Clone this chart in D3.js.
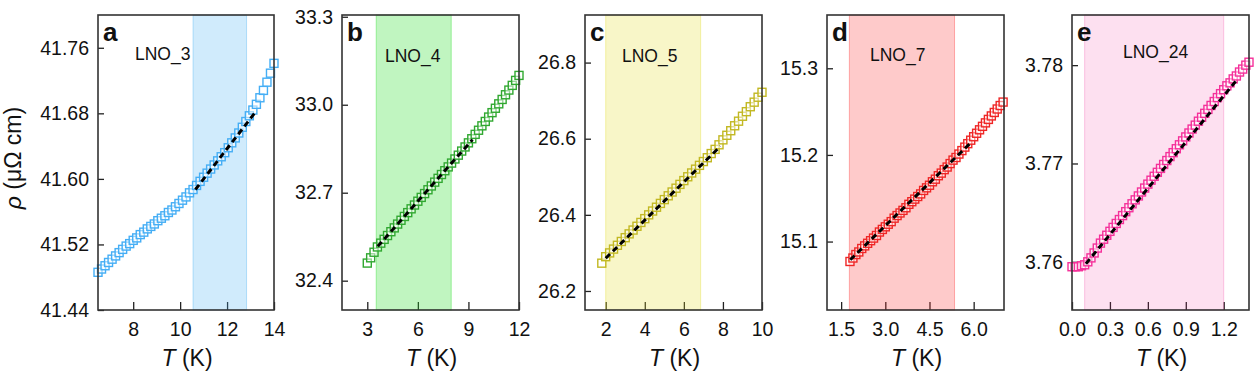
<!DOCTYPE html>
<html>
<head>
<meta charset="utf-8">
<script src="https://cdn.jsdelivr.net/npm/d3@7"></script>
<style>
  html, body { margin: 0; padding: 0; background: #fff; }
  svg { display: block; }
</style>
</head>
<body>
<svg id="chart" width="1256" height="376"></svg>
<script>
// ---------------- DATA ----------------
const panelLetters = ["a", "b", "c", "d", "e"];
const sampleNames = ["LNO_3", "LNO_4", "LNO_5", "LNO_7", "LNO_24"];

// Panel a (LNO_3)
const tA = [6.50,6.65,6.80,6.95,7.10,7.25,7.40,7.55,7.70,7.85,8.00,8.15,8.30,8.45,8.60,8.75,8.90,9.05,9.20,9.35,9.50,9.65,9.80,9.95,10.10,10.25,10.40,10.55,10.70,10.85,11.00,11.15,11.30,11.45,11.60,11.75,11.90,12.05,12.20,12.35,12.50,12.65,12.80,12.95,13.10,13.25,13.40,13.55,13.70,13.85,14.00];
const rhoA = [41.486,41.490,41.494,41.498,41.502,41.506,41.510,41.514,41.518,41.521,41.525,41.528,41.532,41.535,41.539,41.542,41.545,41.549,41.552,41.555,41.559,41.562,41.566,41.570,41.574,41.578,41.583,41.587,41.592,41.597,41.602,41.607,41.612,41.617,41.622,41.627,41.632,41.638,41.644,41.650,41.656,41.663,41.670,41.677,41.684,41.691,41.699,41.708,41.718,41.729,41.741];
const fitTA = [10.65, 13.25];
const fitRhoA = [41.587, 41.683];
const bandA = [10.55, 12.83];
const xDomainA = [6.5, 14];
const yDomainA = [41.44, 41.80];
const xTicksA = [8, 10, 12, 14];
const yTicksA = [41.44, 41.52, 41.60, 41.68, 41.76];

// Panel b (LNO_4)
const tB = [3.0,3.2,3.4,3.6,3.8,4.0,4.2,4.4,4.6,4.8,5.0,5.2,5.4,5.6,5.8,6.0,6.2,6.4,6.6,6.8,7.0,7.2,7.4,7.6,7.8,8.0,8.2,8.4,8.6,8.8,9.0,9.2,9.4,9.6,9.8,10.0,10.2,10.4,10.6,10.8,11.0,11.2,11.4,11.6,11.8,12.0];
const rhoB = [32.460,32.478,32.497,32.515,32.528,32.541,32.554,32.567,32.580,32.593,32.606,32.619,32.632,32.645,32.658,32.671,32.684,32.697,32.710,32.723,32.736,32.749,32.762,32.775,32.788,32.801,32.815,32.828,32.842,32.856,32.870,32.884,32.899,32.913,32.928,32.943,32.958,32.973,32.988,33.003,33.018,33.034,33.050,33.066,33.083,33.100];
const fitTB = [3.62, 9.24];
const fitRhoB = [32.517, 32.881];
const bandB = [3.53, 7.98];
const xDomainB = [1.5, 12];
const yDomainB = [32.3, 33.306];
const xTicksB = [3, 6, 9, 12];
const yTicksB = [32.4, 32.7, 33.0, 33.3];

// Panel c (LNO_5)
const tC = [1.8,2.0,2.2,2.4,2.6,2.8,3.0,3.2,3.4,3.6,3.8,4.0,4.2,4.4,4.6,4.8,5.0,5.2,5.4,5.6,5.8,6.0,6.2,6.4,6.6,6.8,7.0,7.2,7.4,7.6,7.8,8.0,8.2,8.4,8.6,8.8,9.0,9.2,9.4,9.6,9.8,10.0];
const rhoC = [26.273,26.290,26.300,26.310,26.320,26.330,26.340,26.350,26.360,26.370,26.380,26.390,26.400,26.410,26.420,26.430,26.440,26.450,26.460,26.470,26.480,26.490,26.500,26.510,26.520,26.530,26.540,26.550,26.561,26.572,26.584,26.597,26.609,26.621,26.634,26.646,26.659,26.671,26.684,26.696,26.709,26.722];
const fitTC = [2.0, 7.87];
const fitRhoC = [26.286, 26.580];
const bandC = [2.0, 6.86];
const xDomainC = [0.94, 10];
const yDomainC = [26.15, 26.925];
const xTicksC = [2, 4, 6, 8, 10];
const yTicksC = [26.2, 26.4, 26.6, 26.8];

// Panel d (LNO_7)
const tD = [1.8,1.9,2.0,2.1,2.2,2.3,2.4,2.5,2.6,2.7,2.8,2.9,3.0,3.1,3.2,3.3,3.4,3.5,3.6,3.7,3.8,3.9,4.0,4.1,4.2,4.3,4.4,4.5,4.6,4.7,4.8,4.9,5.0,5.1,5.2,5.3,5.4,5.5,5.6,5.7,5.8,5.9,6.0,6.1,6.2,6.3,6.4,6.5,6.6,6.7,6.8,6.9,7.0];
const rhoD = [15.077,15.081,15.085,15.088,15.092,15.095,15.098,15.101,15.104,15.107,15.111,15.114,15.117,15.120,15.123,15.127,15.130,15.133,15.136,15.139,15.143,15.146,15.149,15.152,15.155,15.159,15.162,15.165,15.169,15.172,15.176,15.179,15.183,15.186,15.190,15.194,15.197,15.201,15.205,15.209,15.213,15.217,15.221,15.225,15.229,15.233,15.237,15.241,15.245,15.249,15.253,15.257,15.261];
const fitTD = [1.81, 5.93];
const fitRhoD = [15.079, 15.215];
const bandD = [1.78, 5.35];
const xDomainD = [1.02, 7.03];
const yDomainD = [15.021, 15.3615];
const xTicksD = [1.5, 3.0, 4.5, 6.0];
const yTicksD = [15.1, 15.2, 15.3];

// Panel e (LNO_24)
const tE = [0.000,0.025,0.050,0.075,0.100,0.125,0.150,0.175,0.200,0.225,0.250,0.275,0.300,0.325,0.350,0.375,0.400,0.425,0.450,0.475,0.500,0.525,0.550,0.575,0.600,0.625,0.650,0.675,0.700,0.725,0.750,0.775,0.800,0.825,0.850,0.875,0.900,0.925,0.950,0.975,1.000,1.025,1.050,1.075,1.100,1.125,1.150,1.175,1.200,1.225,1.250,1.275,1.300,1.325,1.350,1.375,1.400];
const rhoE = [3.7595,3.7595,3.7595,3.7596,3.7597,3.7600,3.7604,3.7609,3.7614,3.7619,3.7623,3.7627,3.7631,3.7635,3.7639,3.7643,3.7647,3.7651,3.7655,3.7659,3.7663,3.7667,3.7671,3.7675,3.7679,3.7683,3.7687,3.7691,3.7695,3.7699,3.7703,3.7707,3.7711,3.7715,3.7719,3.7723,3.7727,3.7731,3.7735,3.7739,3.7743,3.7747,3.7751,3.7755,3.7759,3.7763,3.7767,3.7771,3.7775,3.7779,3.7782,3.7786,3.7789,3.7793,3.7796,3.7800,3.7803];
const fitTE = [0.11, 1.31];
const fitRhoE = [3.7598, 3.7786];
const bandE = [0.10, 1.20];
const xDomainE = [0, 1.4];
const yDomainE = [3.7551, 3.7851];
const xTicksE = [0.0, 0.3, 0.6, 0.9, 1.2];
const yTicksE = [3.76, 3.77, 3.78];

const xTitle = "T (K)";
const yTitle = "ρ (μΩ cm)";

// ---------------- LAYOUT & STYLE ----------------
const FONT = "'Liberation Sans', Arial, Helvetica, sans-serif";
const panelLeft = [98, 342, 585, 827, 1072];
const panelRight = [274, 519, 762, 1004, 1249];
const TOP = 15, BOTTOM = 310;
const labelX = [135, 385, 622, 870, 1123];
const labelY = [60, 62, 62, 61, 58];
const markerColor = ["#45aef5", "#30a830", "#c2b822", "#ef2626", "#f5309a"];
const bandColor = ["#43aff3", "#2dde2d", "#e3db23", "#fb2b2b", "#f2309b"];
const bandAlpha = [0.25, 0.30, 0.25, 0.25, 0.15];
const yFmt = [".2f", ".1f", ".1f", ".1f", ".2f"];
const xFmt = ["d", "d", "d", ".1f", ".1f"];

const panels = [
  {t: tA, rho: rhoA, fitT: fitTA, fitRho: fitRhoA, band: bandA, xd: xDomainA, yd: yDomainA, xt: xTicksA, yt: yTicksA},
  {t: tB, rho: rhoB, fitT: fitTB, fitRho: fitRhoB, band: bandB, xd: xDomainB, yd: yDomainB, xt: xTicksB, yt: yTicksB},
  {t: tC, rho: rhoC, fitT: fitTC, fitRho: fitRhoC, band: bandC, xd: xDomainC, yd: yDomainC, xt: xTicksC, yt: yTicksC},
  {t: tD, rho: rhoD, fitT: fitTD, fitRho: fitRhoD, band: bandD, xd: xDomainD, yd: yDomainD, xt: xTicksD, yt: yTicksD},
  {t: tE, rho: rhoE, fitT: fitTE, fitRho: fitRhoE, band: bandE, xd: xDomainE, yd: yDomainE, xt: xTicksE, yt: yTicksE}
];

const svg = d3.select("#chart");

panels.forEach((p, i) => {
  const x = d3.scaleLinear().domain(p.xd).range([panelLeft[i], panelRight[i]]);
  const y = d3.scaleLinear().domain(p.yd).range([BOTTOM, TOP]);
  const g = svg.append("g");

  // axes (ticks inward)
  const xAxis = d3.axisBottom(x).tickValues(p.xt).tickFormat(d3.format(xFmt[i]))
    .tickSizeInner(-8).tickSizeOuter(0).tickPadding(16);
  const yAxis = d3.axisLeft(y).tickValues(p.yt).tickFormat(d3.format(yFmt[i]))
    .tickSizeInner(-6).tickSizeOuter(0).tickPadding(15);

  const gx = g.append("g").attr("transform", `translate(0,${BOTTOM})`).call(xAxis);
  const gy = g.append("g").attr("transform", `translate(${panelLeft[i]},0)`).call(yAxis);
  [gx, gy].forEach(ax => {
    ax.select(".domain").remove();
    ax.selectAll(".tick line").attr("stroke", "#222").attr("stroke-width", 1.3);
    ax.selectAll(".tick text").attr("fill", "#111")
      .style("font-family", FONT).style("font-size", "19.5px");
  });
  gx.selectAll(".tick text").attr("dy", "0.71em").attr("y", 12);
  gy.selectAll(".tick text").attr("x", -9);

  // shaded band
  g.append("rect")
    .attr("x", x(p.band[0])).attr("y", TOP)
    .attr("width", x(p.band[1]) - x(p.band[0])).attr("height", BOTTOM - TOP)
    .attr("fill", bandColor[i]).attr("fill-opacity", bandAlpha[i])
    .attr("stroke", bandColor[i]).attr("stroke-opacity", bandAlpha[i] + 0.1).attr("stroke-width", 1);

  // markers
  const pts = p.t.map((tv, k) => [tv, p.rho[k]]);
  const s = 8;
  g.append("g").selectAll("rect").data(pts).join("rect")
    .attr("x", d => x(d[0]) - s / 2).attr("y", d => y(d[1]) - s / 2)
    .attr("width", s).attr("height", s)
    .attr("fill", "#fff").attr("fill-opacity", 0.5)
    .attr("stroke", markerColor[i]).attr("stroke-width", 1.4);

  // fit line
  const fitPts = p.fitT.map((tv, k) => [tv, p.fitRho[k]]);
  g.append("path").datum(fitPts)
    .attr("d", d3.line().x(d => x(d[0])).y(d => y(d[1])))
    .attr("fill", "none").attr("stroke", "#000").attr("stroke-width", 3)
    .attr("stroke-dasharray", "6,4");

  // frame
  g.append("rect")
    .attr("x", panelLeft[i]).attr("y", TOP)
    .attr("width", panelRight[i] - panelLeft[i]).attr("height", BOTTOM - TOP)
    .attr("fill", "none").attr("stroke", "#333").attr("stroke-width", 1.6);

  // panel letter
  g.append("text").attr("x", panelLeft[i] + 5).attr("y", 41)
    .style("font-family", FONT).style("font-size", "26px").style("font-weight", "bold")
    .attr("fill", "#111").text(panelLetters[i]);

  // sample label
  g.append("text").attr("x", labelX[i]).attr("y", labelY[i])
    .style("font-family", FONT).style("font-size", "17.5px")
    .attr("fill", "#111").text(sampleNames[i]);

  // x title
  const xt = g.append("text").attr("x", (panelLeft[i] + panelRight[i]) / 2 + 1).attr("y", 366)
    .attr("text-anchor", "middle")
    .style("font-family", FONT).style("font-size", "23px").attr("fill", "#111");
  xt.append("tspan").style("font-style", "italic").text(xTitle.slice(0, 1));
  xt.append("tspan").text(xTitle.slice(1));
});

// y title
const yt = svg.append("text")
  .attr("transform", "translate(21,158) rotate(-90)")
  .attr("text-anchor", "middle")
  .style("font-family", FONT).style("font-size", "23px").attr("fill", "#111");
yt.append("tspan").style("font-style", "italic").text(yTitle.slice(0, 1));
yt.append("tspan").text(yTitle.slice(1));
</script>
</body>
</html>
